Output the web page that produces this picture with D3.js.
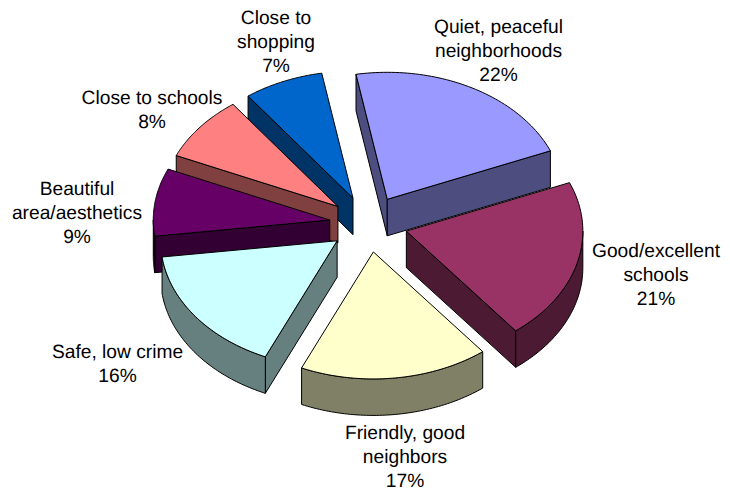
<!DOCTYPE html>
<html><head><meta charset="utf-8">
<script src="https://cdn.jsdelivr.net/npm/d3@7"></script>
<style>html,body{margin:0;padding:0;background:#fff}svg{display:block}text{font-family:"Liberation Sans",Arial,sans-serif;font-size:19.2px;fill:#000;text-rendering:geometricPrecision}</style>
</head><body><svg id="c" width="730" height="491"></svg>
<script>
const categories=["Quiet, peaceful neighborhoods","Good/excellent schools","Friendly, good neighbors","Safe, low crime","Beautiful area/aesthetics","Close to schools","Close to shopping"];
const values=[21.6,20.6,17.3,16.3,8.6,8.3,7.3];
const labelLines=[["Quiet, peaceful","neighborhoods"],["Good/excellent","schools"],["Friendly, good","neighbors"],["Safe, low crime"],["Beautiful","area/aesthetics"],["Close to schools"],["Close to","shopping"]];
const topColors=["#9999FF","#993366","#FFFFCC","#CCFFFF","#660066","#FF8080","#0066CC"];
const sideColors=["#4D4D80","#4D1A33","#808066","#668080","#330033","#804040","#003366"];
const labelAnchors=[[498.5,33],[656,257],[405,438.5],[117.5,357.5],[77,195],[152,104],[276,24]];
const W=730,H=491,CX=368.5,CY=224,RX=176.5,RY=127,EXPLODE=39/176,DEPTH=36.5,LINE=24.2;
const ROT=-10.2*Math.PI/180;
const svg=d3.select("#c");
const px=d3.scaleLinear().domain([-1,1]).range([CX-RX,CX+RX]);
const py=d3.scaleLinear().domain([-1,1]).range([CY-RY,CY+RY]);
const pie=d3.pie().sort(null).startAngle(ROT).endAngle(ROT+2*Math.PI);
const arcs=pie(values).map((a,i)=>{
  const mid=(a.startAngle+a.endAngle)/2;
  return {...a,i,mid,ox:EXPLODE*Math.sin(mid),oy:-EXPLODE*Math.cos(mid)};
});
const rim=(a,t)=>[px(a.ox+Math.sin(t)),py(a.oy-Math.cos(t))];
const apex=a=>[px(a.ox),py(a.oy)];
const drop=p=>[p[0],p[1]+DEPTH];
const line=d3.line();
const sweep=(t0,t1)=>d3.range(0,61).map(k=>t0+(t1-t0)*k/60);
const order=arcs.slice().sort((p,q)=>Math.cos(q.mid)-Math.cos(p.mid));
const g=svg.append("g");
function face(pts,fill){g.append("path").attr("d",line(pts)+"Z").attr("fill",fill).attr("stroke","#000").attr("stroke-width",1).attr("stroke-linejoin","round");}
order.forEach(a=>{
  const side=sideColors[a.i],A=apex(a);
  if(Math.sin(a.startAngle)<0){const R=rim(a,a.startAngle);face([A,R,drop(R),drop(A)],side);}
  if(Math.sin(a.endAngle)>0){const R=rim(a,a.endAngle);face([A,R,drop(R),drop(A)],side);}
  const t0=Math.max(a.startAngle,Math.PI/2),t1=Math.min(a.endAngle,3*Math.PI/2);
  if(t1>t0){const e=sweep(t0,t1).map(t=>rim(a,t));face(e.concat(e.slice().reverse().map(drop)),side);}
  const edge=sweep(a.startAngle,a.endAngle).map(t=>rim(a,t));
  face([A,...edge],topColors[a.i]);
});
const fmt=d3.format(".0%"),total=d3.sum(values);
arcs.forEach(a=>{
  const lines=labelLines[a.i].concat(fmt(a.value/total));
  const t=svg.append("text").attr("text-anchor","middle").attr("aria-label",categories[a.i]);
  lines.forEach((s,k)=>t.append("tspan").attr("x",labelAnchors[a.i][0]).attr("y",labelAnchors[a.i][1]+k*LINE).text(s));
});
</script></body></html>
